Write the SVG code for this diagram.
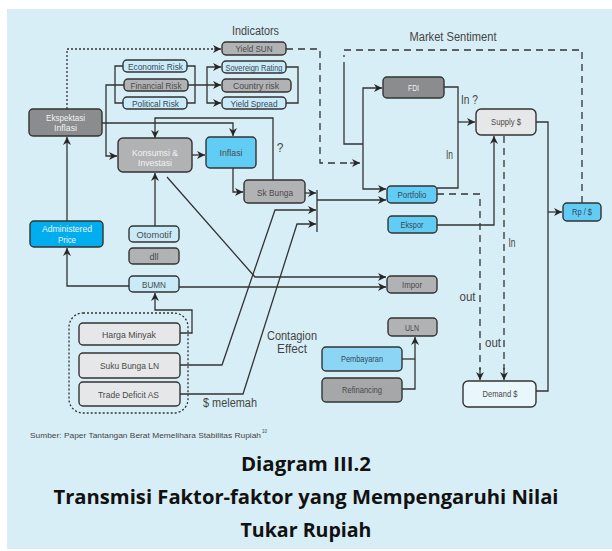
<svg xmlns="http://www.w3.org/2000/svg" width="612" height="551" viewBox="0 0 612 551">
<defs>
<marker id="ah" viewBox="0 0 10 10" refX="10" refY="5" markerWidth="10" markerHeight="8" markerUnits="userSpaceOnUse" orient="auto">
<path d="M0,0 L10,5 L0,10 L3,5 z" fill="#262626"/>
</marker>
<style>
.bx{stroke:#333;stroke-width:1.4}
.dg{fill:#8b8c8e}
.mg{fill:#b1b2b4}
.lb{fill:#c9ebf8}
.bl{fill:#62cdf4}
.lg{fill:#e6e7e8}
.t{font-family:"Liberation Sans",Arial,sans-serif;font-size:9px;fill:#4a4a4a;text-anchor:middle}
.tw{fill:#f2f2f2}
.tb{fill:#36485a}
.lab{font-family:"Liberation Sans",Arial,sans-serif;font-size:12px;fill:#444;text-anchor:middle}
.c{fill:none;stroke:#333;stroke-width:1.3}
.ca{fill:none;stroke:#333;stroke-width:1.3;marker-end:url(#ah)}
.dash{stroke-dasharray:7,5}
.dot{stroke-dasharray:2,2}
.ttl{font-family:"Open Sans","Liberation Sans",sans-serif;font-size:20px;font-weight:bold;fill:#111;text-anchor:middle}
</style>
</defs>
<rect x="7" y="9" width="605" height="540" fill="#d8eef6"/>

<g id="labels">
<text class="lab" x="255.5" y="35" textLength="47" lengthAdjust="spacingAndGlyphs">Indicators</text>
<text class="lab" x="453" y="41" textLength="87" lengthAdjust="spacingAndGlyphs">Market Sentiment</text>
<text class="lab" x="469.5" y="104" font-size="11" textLength="17" lengthAdjust="spacingAndGlyphs">In ?</text>
<text class="lab" x="449.5" y="159" font-size="11" textLength="7" lengthAdjust="spacingAndGlyphs">In</text>
<text class="lab" x="280" y="152" font-size="12">?</text>
<text class="lab" x="512" y="247" font-size="11" textLength="7" lengthAdjust="spacingAndGlyphs">In</text>
<text class="lab" x="467.5" y="301" font-size="11" textLength="16" lengthAdjust="spacingAndGlyphs">out</text>
<text class="lab" x="493" y="347" font-size="11" textLength="16" lengthAdjust="spacingAndGlyphs">out</text>
<text class="lab" x="292" y="340" textLength="50" lengthAdjust="spacingAndGlyphs">Contagion</text>
<text class="lab" x="292" y="353" textLength="30" lengthAdjust="spacingAndGlyphs">Effect</text>
<text class="lab" x="230" y="407" textLength="54" lengthAdjust="spacingAndGlyphs">$ melemah</text>
<text x="30" y="438" font-family="Liberation Sans,Arial,sans-serif" font-size="8" fill="#444" textLength="231" lengthAdjust="spacingAndGlyphs">Sumber: Paper Tantangan Berat Memelihara Stabilitas Rupiah</text>
<text x="262" y="433" font-family="Liberation Sans,Arial,sans-serif" font-size="4.5" fill="#444">10</text>
<text class="ttl" x="306" y="471" textLength="130" lengthAdjust="spacingAndGlyphs">Diagram III.2</text>
<text class="ttl" x="306" y="504" textLength="505" lengthAdjust="spacingAndGlyphs">Transmisi Faktor-faktor yang Mempengaruhi Nilai</text>
<text class="ttl" x="306" y="537" textLength="131" lengthAdjust="spacingAndGlyphs">Tukar Rupiah</text>
</g>

<g id="connectors">
<path class="c dot" d="M67,109 L67,49 L214,49"/>
<path class="ca" d="M214,49 L221,49"/>
<path class="ca" d="M67,221 L67,137"/>
<path class="ca" d="M129,286 L67,286 L67,248"/>
<path class="ca" d="M179,287 L386,287"/>
<path class="ca" d="M167,177 L255,277 L386,277"/>
<path class="ca" d="M180,333 L192,333 L192,310 L155,310 L155,293"/>
<path class="ca" d="M155,226 L155,173"/>
<path class="ca" d="M180,365 L222,365 L275,210 L316,210"/>
<path class="ca" d="M180,394 L243,394 L297,224 L316,224"/>
<path class="ca" d="M305,193 L316,193"/>
<path class="c" d="M317,190 L317,232"/>
<path class="ca" d="M317,200 L386,200"/>
<path class="c dash" d="M582,203 L582,50 L344,50 L344,57"/>
<path class="c" d="M344,62 L344,144 L363,144"/>
<path class="ca" d="M363,144 L363,88 L382,88"/>
<path class="ca" d="M363,144 L363,189 L386,189"/>
<path class="c dash" d="M286,49 L320,49 L320,163 L350,163"/>
<path class="ca" d="M350,163 L360,163"/>
<path class="c" d="M444,87 L458,87 L458,188 L437,188"/>
<path class="ca" d="M458,122 L475,122"/>
<path class="c dash" d="M437,194 L480,194 L480,370"/>
<path class="ca" d="M480,368 L480,380"/>
<path class="c dash" d="M504,136 L504,370"/>
<path class="ca" d="M504,368 L504,380"/>
<path class="ca" d="M437,225 L494,225 L494,136"/>
<path class="c" d="M536,122 L548,122 L548,391 L536,391"/>
<path class="ca" d="M548,212 L562,212"/>
<path class="ca" d="M102,123 L233,123 L233,136"/>
<path class="ca" d="M273,180 L273,118 L155,118 L155,138"/>
<path class="ca" d="M192,155 L205,155"/>
<path class="ca" d="M233,168 L233,192 L243,192"/>
<path class="ca" d="M124,85 L106,85 L106,156 L117,156"/>
<path class="c" d="M123,66 L115,66 L115,103 L123,103"/>
<path class="c" d="M187,66 L195,66 L195,103 L187,103"/>
<path class="ca" d="M188,85 L221,85"/>
<path class="ca" d="M207,85 L207,67 L221,67"/>
<path class="ca" d="M207,85 L207,103 L221,103"/>
<path class="c" d="M286,67 L298,67 L298,103 L286,103"/>
<path class="c" d="M402,359 L415,359"/>
<path class="ca" d="M402,389 L415,389 L415,337"/>
</g>

<rect x="69" y="313" width="119" height="100" rx="14" fill="none" stroke="#333" stroke-width="1.3" stroke-dasharray="2,2"/>

<g id="ekspektasi"><rect class="bx dg" x="29" y="109" width="73" height="27" rx="4"/><text class="t tw" x="65.5" y="120.5" font-size="10" textLength="39" lengthAdjust="spacingAndGlyphs">Ekspektasi</text><text class="t tw" x="65.5" y="131" font-size="10" textLength="23" lengthAdjust="spacingAndGlyphs">Inflasi</text></g>
<g id="economic"><rect class="bx lb" x="123" y="60" width="64" height="12" rx="4"/><text class="t tb" x="155.5" y="69.5" font-size="10" textLength="55" lengthAdjust="spacingAndGlyphs">Economic Risk</text></g>
<g id="financial"><rect class="bx mg" x="124" y="79" width="64" height="12" rx="4"/><text class="t" x="156" y="88.5" font-size="10" textLength="51" lengthAdjust="spacingAndGlyphs">Financial Risk</text></g>
<g id="political"><rect class="bx lb" x="123" y="97" width="64" height="12" rx="4"/><text class="t tb" x="155.5" y="106.5" font-size="10" textLength="47" lengthAdjust="spacingAndGlyphs">Political Risk</text></g>
<g id="yieldsun"><rect class="bx mg" x="222" y="42" width="64" height="13" rx="4"/><text class="t" x="254" y="52" font-size="10" textLength="37" lengthAdjust="spacingAndGlyphs">Yield SUN</text></g>
<g id="sovereign"><rect class="bx lb" x="222" y="61" width="64" height="12" rx="4"/><text class="t tb" x="254" y="70.5" font-size="10" textLength="57" lengthAdjust="spacingAndGlyphs">Sovereign Rating</text></g>
<g id="country"><rect class="bx mg" x="222" y="79" width="69" height="13" rx="4"/><text class="t" x="256" y="89" font-size="10" textLength="46" lengthAdjust="spacingAndGlyphs">Country risk</text></g>
<g id="yieldspread"><rect class="bx lb" x="222" y="97" width="64" height="12" rx="4"/><text class="t tb" x="254" y="106.5" font-size="10" textLength="47" lengthAdjust="spacingAndGlyphs">Yield Spread</text></g>
<g id="fdi"><rect class="bx dg" x="383" y="77" width="61" height="21" rx="4"/><text class="t tw" x="413.5" y="90.5" font-size="8" textLength="11" lengthAdjust="spacingAndGlyphs">FDI</text></g>
<g id="supply"><rect class="bx lg" x="476" y="109" width="60" height="26" rx="5"/><text class="t" x="506" y="125" font-size="8.5" textLength="30" lengthAdjust="spacingAndGlyphs">Supply $</text></g>
<g id="konsumsi"><rect class="bx mg" x="118" y="138" width="74" height="34" rx="5"/><text class="t tw" x="155" y="155.5" font-size="10" textLength="46" lengthAdjust="spacingAndGlyphs">Konsumsi &amp;</text><text class="t tw" x="155" y="165.5" font-size="10" textLength="34" lengthAdjust="spacingAndGlyphs">Investasi</text></g>
<g id="inflasi"><rect class="bx bl" x="206" y="137" width="50" height="31" rx="4"/><text class="t" x="231" y="156" font-size="10" fill="#35485a" textLength="23" lengthAdjust="spacingAndGlyphs">Inflasi</text></g>
<g id="skbunga"><rect class="bx mg" x="244" y="180" width="61" height="23" rx="4"/><text class="t" x="275" y="195.5" font-size="10" textLength="36" lengthAdjust="spacingAndGlyphs">Sk Bunga</text></g>
<g id="portfolio"><rect class="bx bl" x="387" y="186" width="50" height="17" rx="4"/><text class="t tb" x="412" y="198" font-size="9" textLength="29" lengthAdjust="spacingAndGlyphs">Portfolio</text></g>
<g id="ekspor"><rect class="bx bl" x="388" y="216" width="49" height="17" rx="4"/><text class="t tb" x="412" y="228" font-size="9" textLength="23" lengthAdjust="spacingAndGlyphs">Ekspor</text></g>
<g id="rp"><rect class="bx bl" x="563" y="203" width="38" height="18" rx="4"/><text class="t tb" x="582" y="215" font-size="9" textLength="20" lengthAdjust="spacingAndGlyphs">Rp / $</text></g>
<g id="administered"><rect class="bx" fill="#00aeef" x="30" y="221" width="73" height="26" rx="4"/><text class="t tw" x="67" y="231.5" font-size="10" textLength="50" lengthAdjust="spacingAndGlyphs">Administered</text><text class="t tw" x="67" y="242.5" font-size="10" textLength="18" lengthAdjust="spacingAndGlyphs">Price</text></g>
<g id="otomotif"><rect class="bx lb" x="129" y="226" width="50" height="16" rx="4"/><text class="t" x="154" y="237.5" font-size="10" textLength="35" lengthAdjust="spacingAndGlyphs">Otomotif</text></g>
<g id="dll"><rect class="bx mg" x="129" y="248" width="50" height="16" rx="4"/><text class="t" x="154" y="259.5" font-size="10" textLength="9" lengthAdjust="spacingAndGlyphs">dll</text></g>
<g id="bumn"><rect class="bx lb" x="129" y="276" width="50" height="16" rx="4"/><text class="t" x="154" y="287.5" font-size="10" textLength="24" lengthAdjust="spacingAndGlyphs">BUMN</text></g>
<g id="impor"><rect class="bx mg" x="387" y="276" width="50" height="17" rx="4"/><text class="t" x="412" y="288" font-size="9" textLength="20" lengthAdjust="spacingAndGlyphs">Impor</text></g>
<g id="uln"><rect class="bx mg" x="388" y="318" width="49" height="18" rx="4"/><text class="t" x="412" y="330.5" font-size="9" textLength="14" lengthAdjust="spacingAndGlyphs">ULN</text></g>
<g id="pembayaran"><rect class="bx" fill="#8ad6f4" x="322" y="347" width="80" height="24" rx="4"/><text class="t tb" x="362" y="362" font-size="9" textLength="42" lengthAdjust="spacingAndGlyphs">Pembayaran</text></g>
<g id="refinancing"><rect class="bx" fill="#a6a7a9" x="322" y="378" width="80" height="24" rx="4"/><text class="t" x="362" y="393" font-size="9" textLength="40" lengthAdjust="spacingAndGlyphs">Refinancing</text></g>
<g id="demand"><rect class="bx" fill="#e9f6fb" x="463" y="381" width="73" height="26" rx="5"/><text class="t" x="500" y="397" font-size="9" textLength="35" lengthAdjust="spacingAndGlyphs">Demand $</text></g>
<g id="hargaminyak"><rect class="bx lg" x="79" y="323" width="101" height="22" rx="4"/><text class="t" x="129" y="337.5" font-size="10" textLength="54" lengthAdjust="spacingAndGlyphs">Harga Minyak</text></g>
<g id="sukubunga"><rect class="bx lg" x="79" y="353" width="101" height="25" rx="4"/><text class="t" x="129.5" y="369" font-size="10" textLength="59" lengthAdjust="spacingAndGlyphs">Suku Bunga LN</text></g>
<g id="tradedeficit"><rect class="bx lg" x="79" y="382" width="101" height="24" rx="4"/><text class="t" x="128.5" y="397.5" font-size="10" textLength="61" lengthAdjust="spacingAndGlyphs">Trade Deficit AS</text></g>
</svg>
